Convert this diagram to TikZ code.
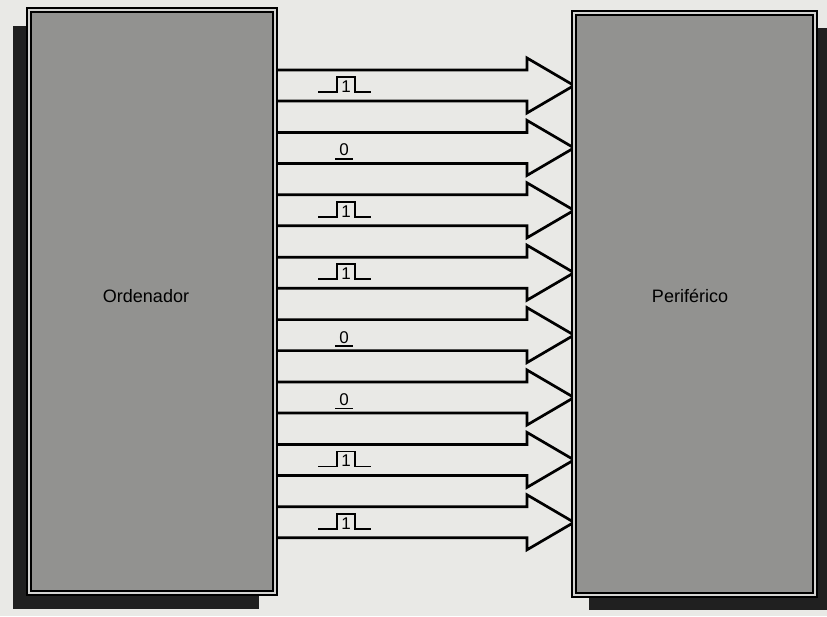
\documentclass[tikz,border=0pt]{standalone}
\usepackage{fontspec}
\setmainfont{Liberation Sans}
\usetikzlibrary{shadows,backgrounds}
\definecolor{bgc}{RGB}{233,233,230}
\definecolor{boxc}{RGB}{146,146,144}
\definecolor{gapc}{RGB}{212,212,210}
\definecolor{shc}{RGB}{32,32,32}
\tikzset{
  box/.style={draw=black, line width=1.7pt, double=gapc, double distance=2.4pt,
    fill=boxc, inner sep=0pt, outer sep=0pt},
  fat/.style={draw=black, line width=2.7pt, fill=bgc, line join=miter},
  pulse/.style={line width=1.6pt},
  bit/.style={font=\fontsize{17}{17}\selectfont, inner sep=0pt},
  boxlabel/.style={font=\fontsize{18}{20}\selectfont, inner sep=0pt}
}
\begin{document}
\begin{tikzpicture}[x=1pt,y=-1pt]
\useasboundingbox (0,0) rectangle (827,616);
% boxes
\node[box, minimum width=246pt, minimum height=583pt,
  drop shadow={shadow xshift=-16pt, shadow yshift=-16pt, fill=shc, opacity=1}]
  (ord) at (152,301.5) {};
\node[box, minimum width=241pt, minimum height=582pt,
  drop shadow={shadow xshift=15pt, shadow yshift=-15pt, fill=shc, opacity=1}]
  (per) at (694.5,304) {};
\node[boxlabel] (ordl) at (146,296) {Ordenador};
\node[boxlabel] (perl) at (690,296) {Periférico};
% arrows and bits
\begin{scope}[on background layer]
\fill[bgc] (0,0) rectangle (827,616);
\foreach \i/\b in {0/1,1/0,2/1,3/1,4/0,5/0,6/1,7/1}{
  \pgfmathsetmacro\yt{70+\i*62.4}
  \draw[fat] (ord.east |- 0,\yt) -- (527,\yt) -- (527,\yt-12)
    -- (per.west |- 0,\yt+15.5) -- (527,\yt+43) -- (527,\yt+31)
    -- (ord.east |- 0,\yt+31);
  \ifnum\b=1
    \draw[pulse] (318,\yt+22) -- (337,\yt+22) -- (337,\yt+7) -- (355,\yt+7)
      -- (355,\yt+22) -- (371,\yt+22);
    \node[bit, anchor=base] (b\i) at (346,\yt+22.5) {1};
  \else
    \node[bit, anchor=base] (b\i) at (344,\yt+23.5) {0};
    \draw[pulse] (335,\yt+26.5) -- (353,\yt+26.5);
  \fi
}
\end{scope}
\end{tikzpicture}
\end{document}
